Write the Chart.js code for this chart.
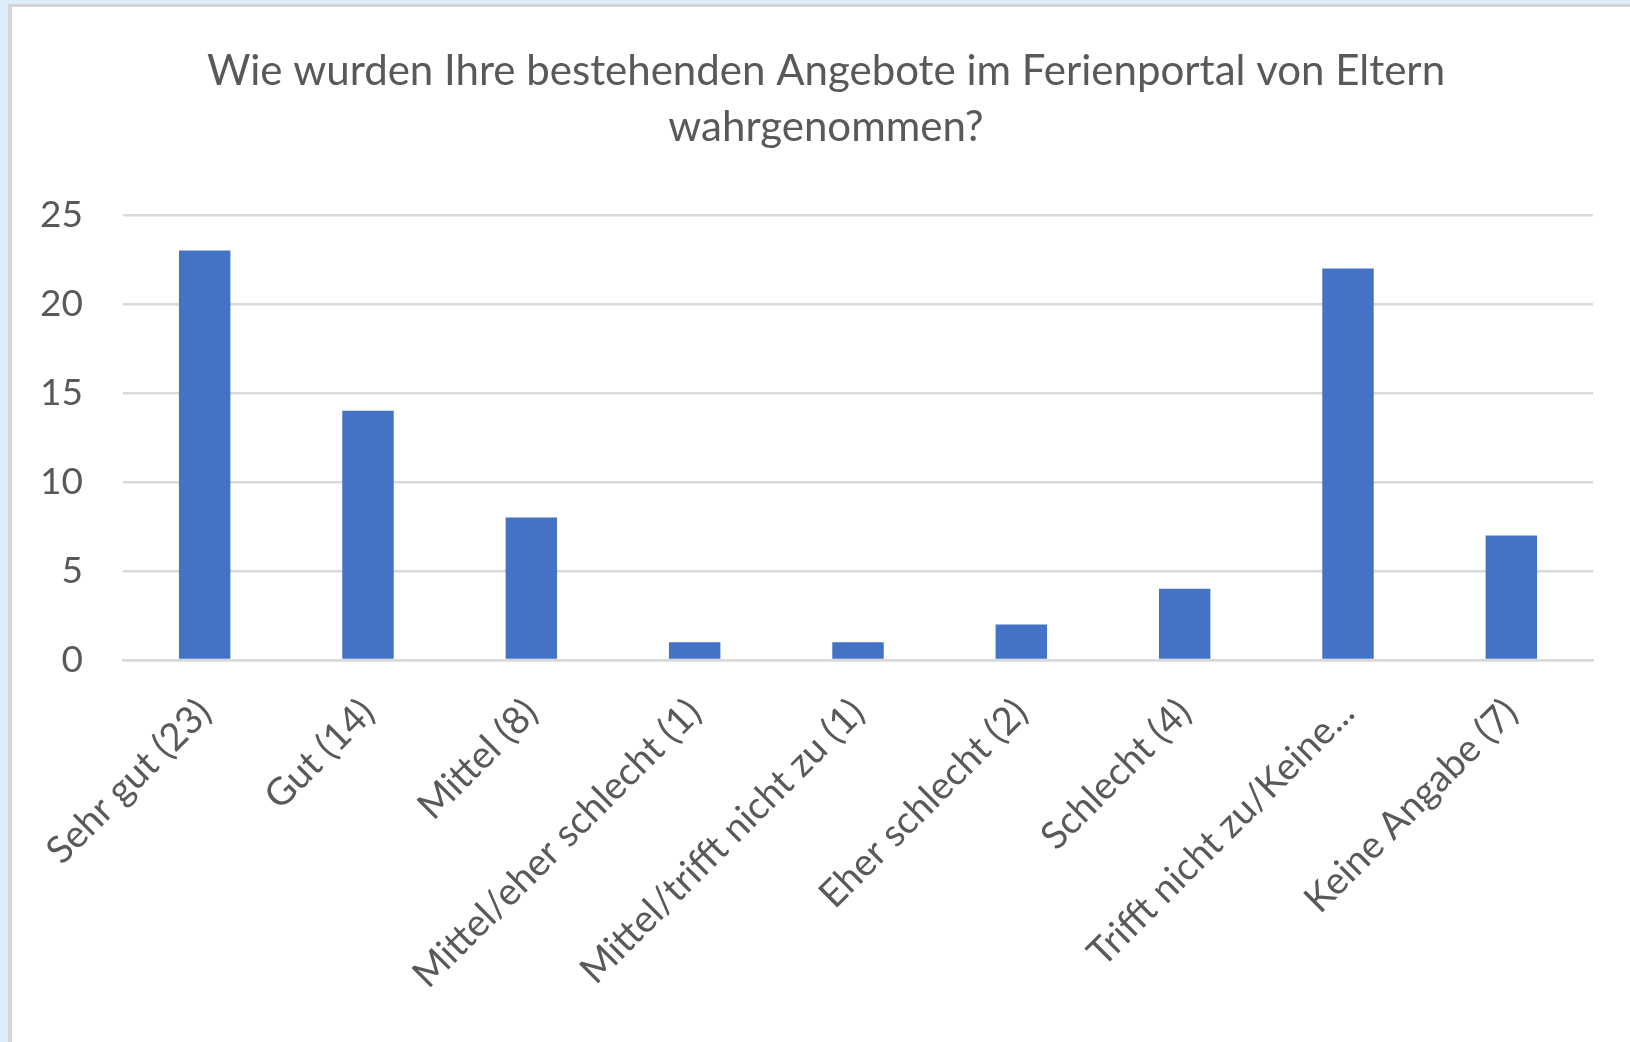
<!DOCTYPE html>
<html lang="de">
<head>
    <meta charset="UTF-8">
    <title>Ferienportal Umfrage</title>
    <style>
        body {
            margin: 0;
            padding: 0;
            background: #dcecf8;
            width: 1630px;
            height: 1042px;
            overflow: hidden;
            position: relative;
        }
        .frame {
            position: absolute;
            left: 8px;
            top: 4px;
            width: 1640px;
            height: 1060px;
            background: #ffffff;
            border-left: 4px solid #d4d4d4;
            border-top: 3px solid #d4d4d4;
        }
        .chart-box {
            position: absolute;
            left: 0;
            top: 0;
            width: 1628px;
            height: 1035px;
        }
    </style>
</head>
<body>
    <div class="frame">
        <div class="chart-box">
            <canvas id="umfrageChart"></canvas>
        </div>
    </div>

    <script src="https://cdn.jsdelivr.net/npm/chart.js"></script>
    <script>
        const categories = [
            'Sehr gut (23)',
            'Gut (14)',
            'Mittel (8)',
            'Mittel/eher schlecht (1)',
            'Mittel/trifft nicht zu (1)',
            'Eher schlecht (2)',
            'Schlecht (4)',
            'Trifft nicht zu/Keine...',
            'Keine Angabe (7)'
        ];
        const antworten = [23, 14, 8, 1, 1, 2, 4, 22, 7];
        const yTicks = [0, 5, 10, 15, 20, 25];
        const titelZeilen = [
            'Wie wurden Ihre bestehenden Angebote im Ferienportal von Eltern',
            'wahrgenommen?'
        ];

        const schrift = 'Lato, "Open Sans", sans-serif';
        const grau = '#595959';
        const linie = '#d9d9d9';

        const ctx = document.getElementById('umfrageChart').getContext('2d');

        new Chart(ctx, {
            type: 'bar',
            data: {
                labels: categories,
                datasets: [{
                    data: antworten,
                    backgroundColor: '#4472c4',
                    borderWidth: 0,
                    barPercentage: 0.315,
                    categoryPercentage: 1.0
                }]
            },
            options: {
                responsive: true,
                maintainAspectRatio: false,
                animation: false,
                layout: { padding: 0 },
                plugins: {
                    legend: { display: false },
                    tooltip: { enabled: false },
                    title: {
                        display: true,
                        text: titelZeilen,
                        color: grau,
                        font: { family: schrift, size: 42, weight: 'normal', lineHeight: 1.333 },
                        padding: { top: 36, bottom: 60 }
                    }
                },
                scales: {
                    x: {
                        grid: { display: false, drawTicks: false },
                        border: { display: true, color: linie, width: 2.5 },
                        ticks: {
                            color: grau,
                            font: { family: schrift, size: 38 },
                            maxRotation: 45,
                            minRotation: 45,
                            padding: 30,
                            autoSkip: false
                        },
                        afterFit: (scale) => { scale.height = 382; }
                    },
                    y: {
                        min: 0,
                        max: 25,
                        afterBuildTicks: (scale) => {
                            scale.ticks = yTicks.map(v => ({ value: v }));
                        },
                        grid: { color: linie, lineWidth: 2.5, drawTicks: false },
                        border: { display: false },
                        ticks: {
                            color: grau,
                            font: { family: schrift, size: 37 },
                            padding: 40
                        },
                        afterFit: (scale) => { scale.width = 111; }
                    },
                    // leerer Rand rechts, damit der Titel über die ganze Breite zentriert bleibt
                    rand: {
                        type: 'linear',
                        position: 'right',
                        min: 0,
                        max: 25,
                        grid: { display: false, drawTicks: false },
                        border: { display: false },
                        ticks: { display: false },
                        afterFit: (scale) => { scale.width = 47; }
                    }
                }
            }
        });
    </script>
</body>
</html>
